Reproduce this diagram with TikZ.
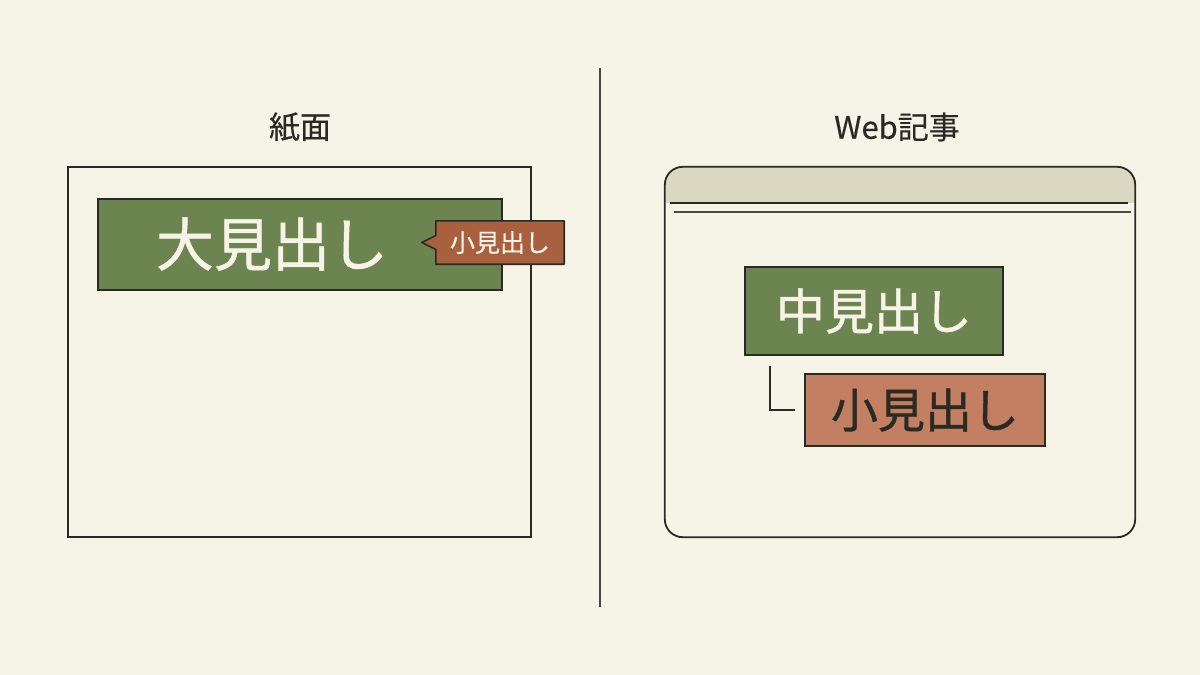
\documentclass[tikz,border=0pt]{standalone}
\usepackage{fontspec}
\usetikzlibrary{calc}
\setmainfont{Noto Sans CJK JP}
\newfontfamily\heavy[FakeBold=0.9]{Noto Sans CJK JP}
\newfontfamily\semi[FakeBold=0.4]{Noto Sans CJK JP}
\definecolor{bg}{HTML}{F6F3E7}
\definecolor{ink}{HTML}{2A2A24}
\definecolor{leaf}{HTML}{6C8450}
\definecolor{rust}{HTML}{A9603F}
\definecolor{clay}{HTML}{C27F62}
\definecolor{band}{HTML}{DAD8C1}
\definecolor{cream}{HTML}{F7F3E6}
\tikzset{
  frame/.style={draw=ink, line width=1.8pt},
  greenbox/.style={draw=ink, line width=1.6pt, fill=leaf, text=cream, inner sep=0pt},
  claybox/.style={draw=ink, line width=1.6pt, fill=clay, text=ink, inner sep=0pt},
  title/.style={text=ink, font=\semi\fontsize{31}{36}\selectfont},
  divider/.style={draw=ink!85, line width=1.3pt},
  link/.style={draw=ink, line width=1.6pt},
}
\begin{document}
\begin{tikzpicture}[x=1pt,y=-1pt]
\fill[bg] (0,0) rectangle (1200,675);
\useasboundingbox (0,0) rectangle (1200,675);

% divider
\coordinate (dtop) at (600,68);
\coordinate (dbot) at (600,607);
\draw[divider] (dtop) -- (dbot);

% titles
\node[title] (t1) at (300,127) {紙面};
\node[title] (t2) at (897,127) {Web記事};

% left: paper page
\node[frame, minimum width=463pt, minimum height=370pt, inner sep=0pt] (paper) at (299.5,352) {};
\node[greenbox, minimum width=404pt, minimum height=91pt] (big) at (300,244.5) {};
\node[text=cream, font=\heavy\fontsize{58}{60}\selectfont, inner sep=0pt] (bigtxt) at (272,244) {大見出し};
% small tag
\node[fill=rust, minimum width=128pt, minimum height=43pt, inner sep=0pt] (tag) at (500,242.5) {};
\coordinate (tip) at ($(tag.west)+(-14,0)$);
\fill[rust] (tag.north west) -- ($(tag.west)+(0,-7)$) -- (tip) -- ($(tag.west)+(0,7)$) -- (tag.south west) -- cycle;
\draw[ink, line width=1.6pt, line join=round] (tag.north west) -- (tag.north east) -- (tag.south east) -- (tag.south west) -- ($(tag.west)+(0,7)$) -- (tip) -- ($(tag.west)+(0,-7)$) -- cycle;
\node[text=cream, font=\semi\fontsize{25}{28}\selectfont, inner sep=0pt] (tagtxt) at (tag.center) {小見出し};

% right: browser window
\node[minimum width=470pt, minimum height=370pt, inner sep=0pt] (web) at (900,352) {};
\begin{scope}
\clip[rounded corners=18pt] (web.north west) rectangle (web.south east);
\fill[band] (web.north west) rectangle ($(web.north east)+(0,36)$);
\end{scope}
\draw[frame, rounded corners=18pt] (web.north west) rectangle (web.south east);
\coordinate (l1a) at (670,203);
\coordinate (l1b) at (1128,203);
\coordinate (l2a) at (674,212);
\coordinate (l2b) at (1131,212);
\draw[ink, line width=1.6pt] (l1a) -- (l1b);
\draw[ink!85, line width=1.2pt] (l2a) -- (l2b);

\node[greenbox, minimum width=258pt, minimum height=88pt, font=\heavy\fontsize{49}{52}\selectfont] (mid) at (874,311) {中見出し};
\node[claybox, minimum width=240pt, minimum height=72pt, font=\heavy\fontsize{47}{50}\selectfont] (small) at (925,410) {小見出し};
\coordinate (ca) at (770,366);
\coordinate (cb) at (770,410);
\coordinate (cc) at (795,410);
\draw[link] (ca) -- (cb) -- (cc);
\end{tikzpicture}
\end{document}
